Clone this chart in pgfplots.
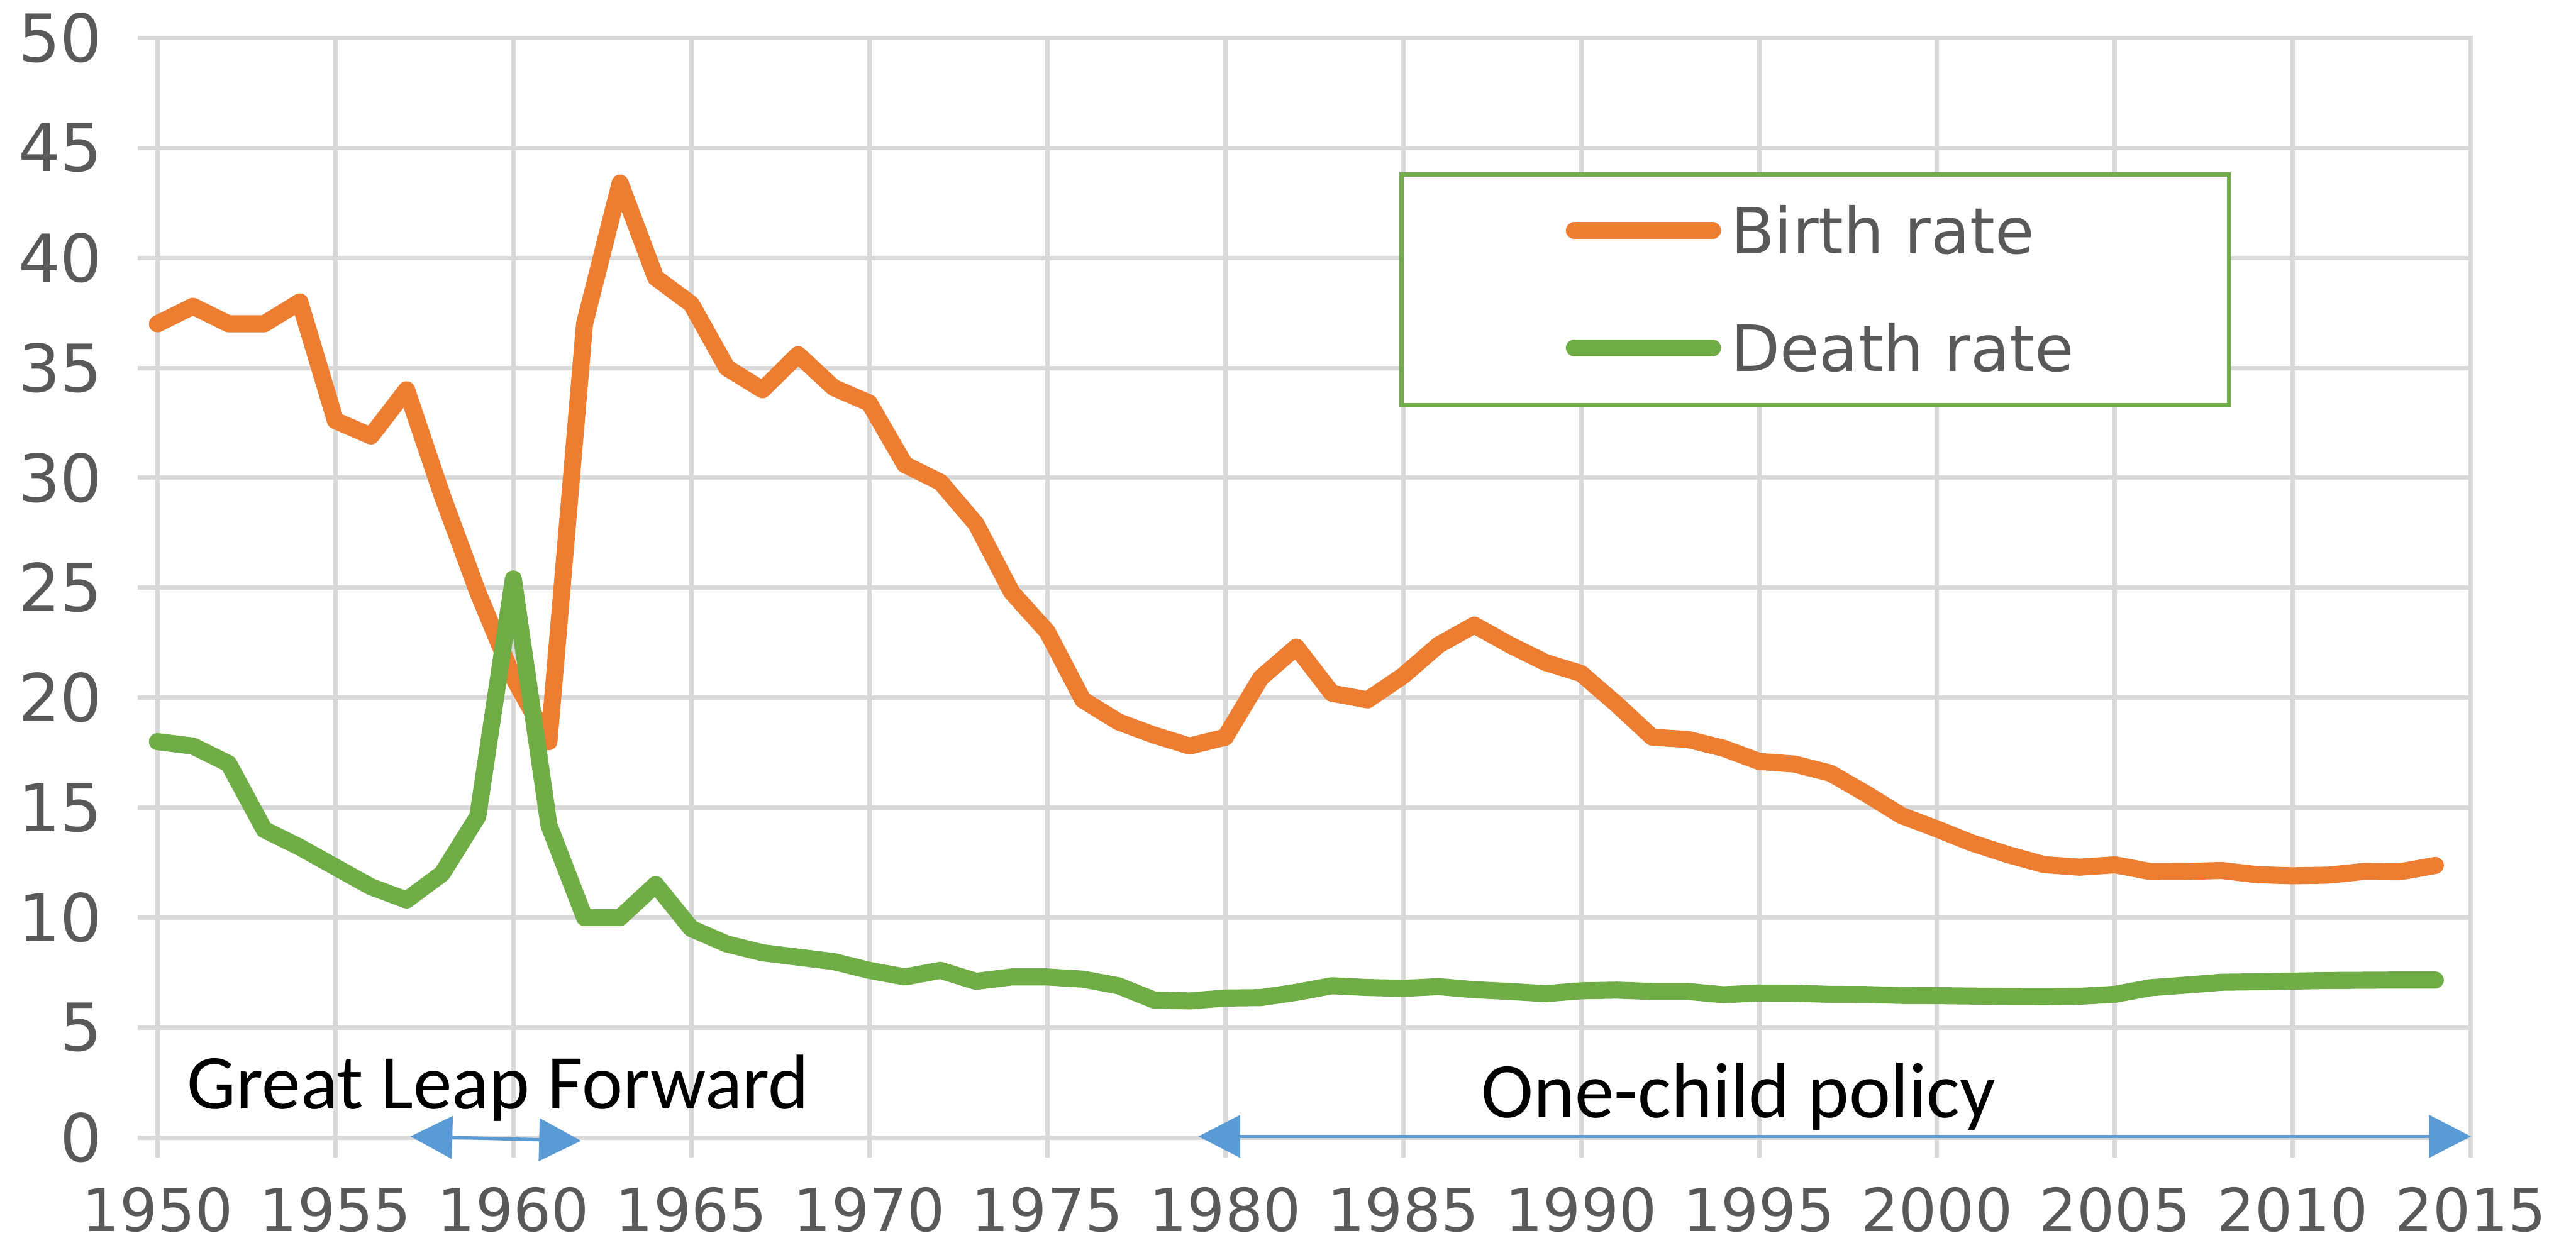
\documentclass[border=0pt]{standalone}
\usepackage{pgfplots}
\pgfplotsset{compat=1.18}
\usepackage{fontspec}
\setmainfont{DejaVu Sans}
\newfontfamily\carlito{Carlito}
\usetikzlibrary{arrows.meta}
\definecolor{birth}{HTML}{ED7D31}
\definecolor{death}{HTML}{70AD47}
\definecolor{arrowblue}{HTML}{5B9BD5}
\definecolor{gridgray}{HTML}{D9D9D9}
\definecolor{textgray}{HTML}{595959}

\pgfplotstableread{
year birth death
1950 37.0 18.0
1951 37.8 17.8
1952 37.0 17.0
1953 37.0 14.0
1954 38.0 13.2
1955 32.6 12.3
1956 31.9 11.4
1957 34.0 10.8
1958 29.2 12.0
1959 24.8 14.6
1960 20.9 25.4
1961 18.0 14.2
1962 37.0 10.0
1963 43.4 10.0
1964 39.1 11.5
1965 37.9 9.5
1966 35.0 8.8
1967 34.0 8.4
1968 35.6 8.2
1969 34.1 8.0
1970 33.4 7.6
1971 30.6 7.3
1972 29.8 7.6
1973 27.9 7.1
1974 24.8 7.3
1975 23.0 7.3
1976 19.9 7.2
1977 18.9 6.9
1978 18.3 6.25
1979 17.8 6.21
1980 18.2 6.34
1981 20.9 6.36
1982 22.3 6.6
1983 20.2 6.9
1984 19.9 6.82
1985 21.0 6.78
1986 22.4 6.86
1987 23.3 6.72
1988 22.4 6.64
1989 21.6 6.54
1990 21.1 6.67
1991 19.7 6.70
1992 18.2 6.64
1993 18.1 6.64
1994 17.7 6.49
1995 17.1 6.57
1996 16.98 6.56
1997 16.57 6.51
1998 15.64 6.50
1999 14.64 6.46
2000 14.03 6.45
2001 13.38 6.43
2002 12.86 6.41
2003 12.41 6.40
2004 12.29 6.42
2005 12.40 6.51
2006 12.09 6.81
2007 12.10 6.93
2008 12.14 7.06
2009 11.95 7.08
2010 11.90 7.11
2011 11.93 7.14
2012 12.10 7.15
2013 12.08 7.16
2014 12.37 7.16
}\rates

\begin{document}
\begin{tikzpicture}
\begin{axis}[
  at={(0pt,0pt)}, anchor=south west,
  scale only axis, width=420.3pt, height=199.8pt,
  xmin=1950, xmax=2015, ymin=0, ymax=50,
  xtick={1950,1955,...,2015}, ytick={0,5,...,50},
  grid=major, major grid style={gridgray, line width=0.8pt},
  axis line style={gridgray, line width=0.8pt},
  tick align=outside, major tick length=3.6pt,
  tick style={gridgray, line width=0.8pt},
  xtick pos=bottom, ytick pos=left,
  /pgf/number format/assume math mode=true,
  x tick label style={/pgf/number format/1000 sep={}, font=\fontsize{10.8}{10.8}\selectfont, text=textgray, inner sep=0pt, yshift=-5.2pt},
  y tick label style={font=\fontsize{12}{12}\selectfont, text=textgray, inner sep=0pt, xshift=-6.2pt},
  clip=false,
  legend cell align=left,
  legend image code/.code={\draw[#1, line cap=round] (0pt,0pt) -- (25.1pt,0pt);},
  legend style={draw=none, fill=none, at={(0.6083,0.7715)}, anchor=west,
    inner sep=0pt, row sep=12.8pt, column sep=1.8pt,
    nodes={inner sep=0pt, text height=8.5pt, text depth=0pt,
      font=\fontsize{11.6}{11.6}\selectfont, text=textgray}},
]
\draw[death, line width=0.75pt, fill=white] (axis cs:1984.95,33.3) rectangle (axis cs:2008.2,43.8);
\addplot[birth, line width=3.1pt, line join=round, line cap=round] table[x=year, y=birth] {\rates};
\addlegendentry{Birth rate}
\addplot[death, line width=3.1pt, line join=round, line cap=round] table[x=year, y=death] {\rates};
\addlegendentry{Death rate}
\draw[arrowblue, line width=0.6pt, {Triangle[length=7.6pt,width=7.7pt]}-{Triangle[length=7.6pt,width=7.7pt]}] (axis cs:1957.11,0.05) -- (axis cs:1961.9,-0.15);
\draw[arrowblue, line width=0.6pt, {Triangle[length=7.6pt,width=7.7pt]}-{Triangle[length=7.6pt,width=7.7pt]}] (axis cs:1979.25,0.05) -- (axis cs:2015,0.05);
\node[anchor=base west, inner sep=0pt, font=\carlito\fontsize{14.1}{14.1}\selectfont, text=black] at (axis cs:1950.80,1.3) {Great Leap Forward};
\node[anchor=base west, inner sep=0pt, font=\carlito\fontsize{14.3}{14.3}\selectfont, text=black] at (axis cs:1987.17,0.9) {One-child policy};
\coordinate (bl) at (axis cs:1950,0);
\coordinate (tr) at (axis cs:2015,50);
\end{axis}
\pgfresetboundingbox
\path[use as bounding box] ([xshift=-28.6pt,yshift=-18.2pt]bl) rectangle ([xshift=19.1pt,yshift=6.9pt]tr);
\end{tikzpicture}
\end{document}
